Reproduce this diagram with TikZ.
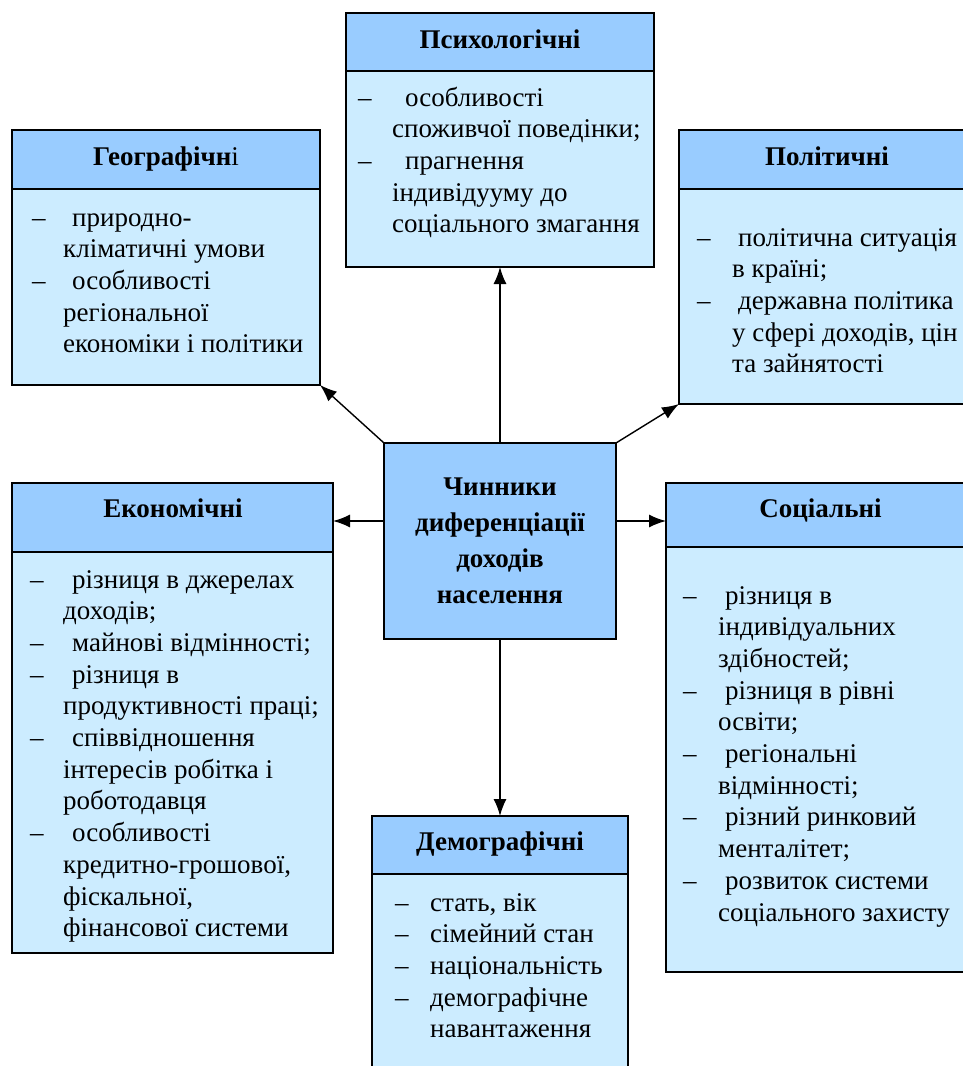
\documentclass[tikz,border=0pt]{standalone}
\usepackage{fontspec}
\setmainfont{Liberation Serif}
\usetikzlibrary{arrows.meta}
\definecolor{hdrblue}{HTML}{99CCFF}
\definecolor{bodyblue}{HTML}{CCECFF}
\newcommand\mylist[2]{\begin{tabular}[t]{@{}p{#1}@{}l@{}}#2\end{tabular}}
\begin{document}
\begin{tikzpicture}[x=1pt,y=-1pt,
  box/.style={draw=black, line width=1.5pt, fill=bodyblue, anchor=north west, inner sep=0pt, outer sep=0pt},
  hdr/.style={draw=black, line width=1.5pt, fill=hdrblue, anchor=north west, inner sep=0pt, outer sep=0pt},
  ttl/.style={anchor=base, inner sep=0pt, font=\fontsize{27}{31.7}\selectfont\bfseries},
  txt/.style={anchor=base west, inner sep=0pt, font=\fontsize{27}{31.7}\selectfont},
  arr/.style={line width=1.4pt, -{Latex[length=17pt,width=13pt]}}]
\useasboundingbox (0,0) rectangle (963,1066);
\fill[white] (0,0) rectangle (963,1066);
\clip (0,0) rectangle (963,1066);

% Психологічні
\node[box, minimum width=308pt, minimum height=254pt] (psy) at (346,13) {};
\node[hdr, minimum width=308pt, minimum height=58pt] (psyh) at (346,13) {};
\node[ttl] (psyt) at (500,48) {Психологічні};
\node[txt] (psyb) at (358,106) {\mylist{34pt}{–&\hspace{13pt}особливості\\ &споживчої поведінки;\\ –&\hspace{13pt}прагнення\\ &індивідууму до\\ &соціального змагання}};

% Географічні
\node[box, minimum width=308pt, minimum height=255pt] (geo) at (12,130) {};
\node[hdr, minimum width=308pt, minimum height=59pt] (geoh) at (12,130) {};
\node[ttl] (geot) at (166,165) {Географічн\textmd{і}};
\node[txt] (geob) at (32,226) {\mylist{31pt}{–&\hspace{9pt}природно-\\ &кліматичні умови\\ –&\hspace{9pt}особливості\\ &регіональної\\ &економіки і політики}};

% Політичні
\node[box, minimum width=296pt, minimum height=274pt] (pol) at (679,130) {};
\node[hdr, minimum width=296pt, minimum height=59pt] (polh) at (679,130) {};
\node[ttl] (polt) at (827,165) {Політичні};
\node[txt] (polb) at (697,246) {\mylist{35pt}{–&\hspace{6pt}політична ситуація\\ &в країні;\\ –&\hspace{6pt}державна політика\\ &у сфері доходів, цін\\ &та зайнятості}};

% Економічні
\node[box, minimum width=321pt, minimum height=470pt] (eco) at (12,483) {};
\node[hdr, minimum width=321pt, minimum height=69pt] (ecoh) at (12,483) {};
\node[ttl] (ecot) at (173,517) {Економічні};
\node[txt] (ecob) at (30,588) {\mylist{33pt}{–&\hspace{9pt}різниця в джерелах\\ &доходів;\\ –&\hspace{9pt}майнові відмінності;\\ –&\hspace{9pt}різниця в\\ &продуктивності праці;\\ –&\hspace{9pt}співвідношення\\ &інтересів робітка і\\ &роботодавця\\ –&\hspace{9pt}особливості\\ &кредитно-грошової,\\ &фіскальної,\\ &фінансової системи}};

% Соціальні
\node[box, minimum width=309pt, minimum height=489pt] (soc) at (666,483) {};
\node[hdr, minimum width=309pt, minimum height=64pt] (soch) at (666,483) {};
\node[ttl] (soct) at (820.5,517) {Соціальні};
\node[txt] (socb) at (683,604) {\mylist{35pt}{–&\hspace{7pt}різниця в\\ &індивідуальних\\ &здібностей;\\ –&\hspace{7pt}різниця в рівні\\ &освіти;\\ –&\hspace{7pt}регіональні\\ &відмінності;\\ –&\hspace{7pt}різний ринковий\\ &менталітет;\\ –&\hspace{7pt}розвиток системи\\ &соціального захисту}};

% Демографічні
\node[box, minimum width=256pt, minimum height=270pt] (dem) at (372,816) {};
\node[hdr, minimum width=256pt, minimum height=58pt] (demh) at (372,816) {};
\node[ttl] (demt) at (500,850) {Демографічні};
\node[txt] (demb) at (395,911) {\mylist{35pt}{–&стать, вік\\ –&сімейний стан\\ –&національність\\ –&демографічне\\ &навантаження}};

% Центр
\node[hdr, minimum width=232pt, minimum height=196pt] (cen) at (384,443) {};
\node[ttl, font=\fontsize{27}{36}\selectfont\bfseries] (cent) at (500,495) {\begin{tabular}[t]{@{}c@{}}Чинники\\диференціації\\доходів\\населення\end{tabular}};

% Стрілки
\draw[arr] (cen.north) -- (psy.south);
\draw[arr] (cen.north west) -- (geo.south east);
\draw[arr] (cen.north east) -- (pol.south west);
\draw[arr] ([yshift=20pt]cen.west) coordinate (cw) -- (cw -| eco.east);
\draw[arr] ([yshift=20pt]cen.east) coordinate (ce) -- (ce -| soc.west);
\draw[arr] (cen.south) -- (dem.north);
\end{tikzpicture}
\end{document}
